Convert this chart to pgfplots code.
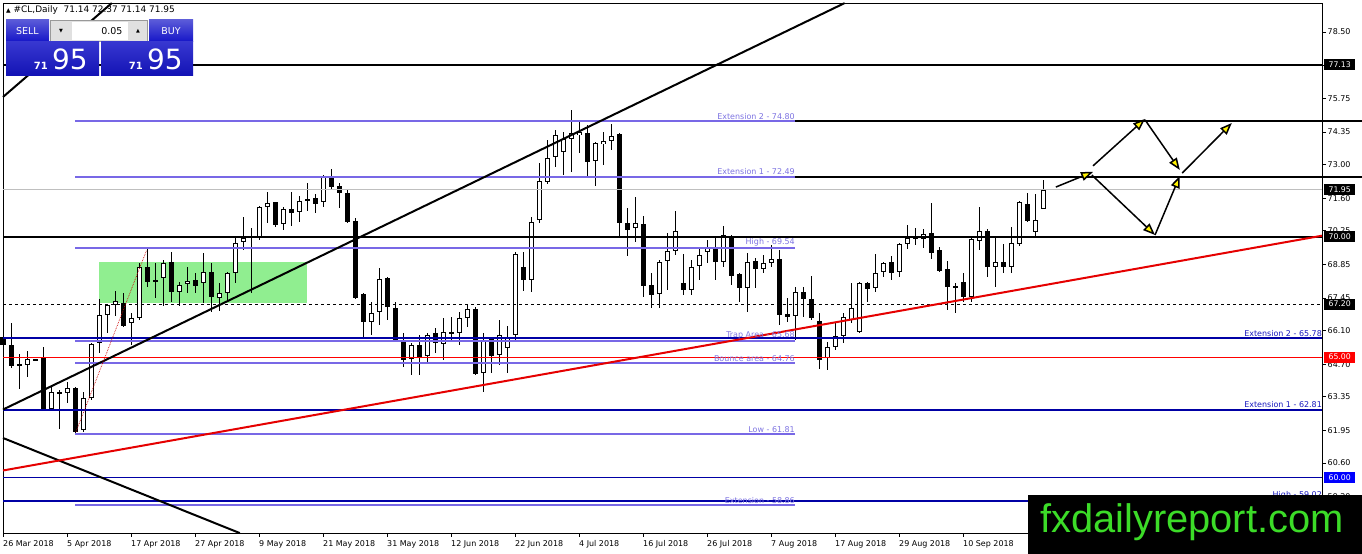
\documentclass[border=0pt]{standalone}
\usepackage{fontspec}
\setmainfont{DejaVu Sans}
\newfontfamily\wmfont{Liberation Sans}
\usepackage{pgfplots}
\pgfplotsset{compat=1.18}
\usepackage{pgfplotstable}
\usetikzlibrary{arrows.meta}

\definecolor{fib}{RGB}{120,104,230}
\definecolor{fibtxt}{RGB}{125,115,225}
\definecolor{navy}{RGB}{0,0,165}
\definecolor{navytxt}{RGB}{25,25,190}
\definecolor{grn}{RGB}{144,238,144}
\definecolor{wm}{RGB}{60,220,40}
\definecolor{btnblue}{RGB}{20,20,200}

\pgfplotstableread{
i o h l c
0 65.83 66.54 65.40 65.50
1 65.50 66.42 64.55 64.63
2 64.70 65.13 63.67 64.66
3 64.67 65.25 64.17 64.92
4 64.88 64.92 64.84 64.88
5 65.00 65.42 62.80 62.84
6 62.84 63.76 62.80 63.55
7 63.50 63.63 62.01 63.55
8 63.51 63.97 63.09 63.72
9 63.72 63.76 61.81 61.89
10 61.97 63.55 61.89 63.30
11 63.30 65.58 63.20 65.54
12 65.58 67.41 65.17 66.75
13 66.75 67.18 66.00 67.16
14 67.16 67.74 66.71 67.33
15 67.25 67.66 66.25 66.29
16 66.42 66.83 65.50 66.62
17 66.62 68.91 66.54 68.74
18 68.74 69.54 67.91 68.12
19 68.12 68.91 67.45 68.20
20 68.28 69.03 67.12 68.91
21 68.95 69.36 67.29 67.70
22 67.70 68.12 67.12 67.99
23 68.04 68.74 67.66 68.16
24 68.20 68.50 67.66 67.95
25 68.08 69.32 67.25 68.53
26 68.53 68.91 66.87 67.50
27 67.45 68.08 66.91 67.66
28 67.66 68.53 67.29 68.49
29 68.49 69.95 68.08 69.74
30 69.78 70.82 69.45 69.95
31 69.95 70.36 67.66 70.03
32 69.99 71.27 69.86 71.23
33 71.23 71.86 70.57 71.40
34 71.44 71.46 70.40 70.49
35 70.53 71.23 70.28 71.15
36 71.15 71.86 70.44 70.98
37 71.02 71.69 70.61 71.48
38 71.52 72.23 71.07 71.56
39 71.61 71.77 70.98 71.36
40 71.44 72.56 71.23 72.52
41 72.48 72.81 72.00 72.06
42 72.10 72.23 71.19 71.81
43 71.81 71.94 70.57 70.61
44 70.65 70.78 67.41 67.45
45 67.62 67.66 65.83 66.46
46 66.46 67.29 65.92 66.83
47 66.87 68.70 66.33 68.24
48 68.28 68.32 66.54 67.08
49 67.04 67.29 65.65 65.71
50 65.63 66.00 64.59 64.88
51 64.92 65.58 64.26 65.50
52 65.50 65.92 64.26 65.00
53 65.04 66.00 64.80 65.92
54 66.00 66.21 65.17 65.58
55 65.54 66.62 64.88 66.04
56 66.00 66.66 65.63 66.04
57 66.00 66.87 65.50 66.62
58 66.62 67.20 66.25 67.00
59 67.00 67.08 64.26 64.30
60 64.34 66.00 63.55 65.71
61 65.79 65.83 64.34 65.04
62 65.08 66.54 64.67 65.92
63 65.38 66.29 64.34 65.79
64 65.92 69.36 65.71 69.28
65 68.74 69.36 67.74 68.20
66 68.20 70.82 67.70 70.61
67 70.69 73.06 70.57 72.31
68 72.27 74.01 72.19 73.27
69 73.31 74.43 72.89 74.22
70 73.52 74.35 72.56 74.06
71 74.06 75.26 72.69 74.31
72 74.22 74.76 73.48 74.35
73 74.31 74.64 72.52 73.10
74 73.14 73.93 72.10 73.89
75 73.85 74.35 72.98 73.97
76 73.97 74.68 73.60 74.18
77 74.26 74.31 69.99 70.57
78 70.57 71.19 69.20 70.28
79 70.36 71.65 69.78 70.57
80 70.53 70.86 67.50 67.95
81 67.99 68.49 67.04 67.58
82 67.62 69.03 67.04 68.95
83 68.99 70.15 67.79 69.41
84 69.41 71.07 69.24 70.24
85 68.08 69.28 67.58 67.79
86 67.79 69.03 67.58 68.74
87 68.78 69.53 68.20 69.24
88 69.36 69.86 68.91 69.53
89 69.53 69.95 68.20 68.95
90 68.95 70.44 68.74 70.07
91 69.99 70.07 67.99 68.37
92 68.45 68.49 67.29 67.87
93 67.87 69.32 66.87 68.95
94 68.99 69.11 67.87 68.66
95 68.66 69.24 68.49 68.91
96 68.91 69.66 68.74 69.07
97 69.07 69.45 66.33 66.75
98 66.79 67.45 66.46 66.66
99 66.71 67.91 65.71 67.70
100 67.70 67.91 66.66 67.41
101 67.41 68.37 66.54 66.62
102 66.50 66.83 64.51 64.88
103 64.96 65.63 64.46 65.42
104 65.42 66.42 65.29 65.88
105 65.88 66.83 65.58 66.66
106 66.54 68.08 66.42 67.04
107 66.04 68.12 66.00 68.08
108 68.08 68.12 67.29 67.83
109 67.87 69.28 67.70 68.49
110 68.53 68.95 68.33 68.91
111 68.95 69.20 68.20 68.49
112 68.53 69.74 68.33 69.70
113 69.70 70.49 69.49 69.95
114 69.95 70.36 69.66 69.90
115 69.90 70.32 69.53 70.11
116 70.15 71.40 69.07 69.32
117 69.45 69.57 68.53 68.58
118 68.66 68.99 66.96 67.91
119 67.91 68.08 66.83 67.95
120 68.12 68.49 67.29 67.50
121 67.50 69.95 67.29 69.90
122 69.82 71.23 69.45 70.24
123 70.24 70.32 68.33 68.74
124 68.74 69.95 67.91 68.95
125 68.95 69.70 68.49 68.74
126 68.74 70.40 68.49 69.74
127 69.70 71.48 69.62 71.44
128 71.36 71.81 70.61 70.65
129 70.20 71.77 70.03 70.69
130 71.14 72.37 71.14 71.95
}\candles

\tikzset{lbl/.style={inner sep=0pt, font=\fontsize{8}{9}\selectfont},
  pbox/.style={anchor=west, inner sep=0pt, minimum width=31bp, minimum height=11bp, font=\fontsize{7.8}{9}\selectfont, xshift=2bp},
  arr/.style={line width=1.5bp, black, -{Triangle[length=12bp,width=9bp,fill=yellow]}}}

\begin{document}
\begin{tikzpicture}[x=1bp,y=1bp]
\useasboundingbox (0,0) rectangle (1362,554);
\begin{axis}[
  at={(3bp,21bp)}, anchor=south west,
  width=1319bp, height=530bp, scale only axis,
  xmin=0, xmax=164.875, ymin=57.694, ymax=79.704,
  clip=false,
  axis line style={line width=0.8bp},
  tick align=outside, major tick length=4bp,
  tick style={black, line width=0.8bp},
  xtick pos=bottom, ytick pos=right, yticklabel pos=right,
  xtick={0,8,...,120},
  xticklabels={26 Mar 2018,5 Apr 2018,17 Apr 2018,27 Apr 2018,9 May 2018,21 May 2018,31 May 2018,12 Jun 2018,22 Jun 2018,4 Jul 2018,16 Jul 2018,26 Jul 2018,7 Aug 2018,17 Aug 2018,29 Aug 2018,10 Sep 2018},
  xticklabel style={anchor=north west, inner sep=0pt, yshift=-3.5bp, font=\fontsize{8}{9}\selectfont},
  ytick={78.5,77.1,75.75,74.35,73,71.6,70.25,68.85,67.45,66.1,64.7,63.35,61.95,60.6,59.2},
  yticklabels={78.50,77.10,75.75,74.35,73.00,71.60,70.25,68.85,67.45,66.10,64.70,63.35,61.95,60.60,59.20},
  yticklabel style={anchor=west, inner sep=0pt, xshift=1.5bp, font=\fontsize{8}{9}\selectfont},
  /pgf/number format/assume math mode=true,
]
% green zone
\addplot[fill=grn, draw=none] coordinates {(12.04,67.23) (37.96,67.23) (37.96,68.94) (12.04,68.94)};

% candles: wicks
\addplot[draw=none, mark=none, error bars/.cd, y dir=both, y explicit, error mark=none,
  error bar style={draw=black, line width=1bp}]
  table[x=i, y expr={(\thisrow{h}+\thisrow{l})/2}, y error expr={(\thisrow{h}-\thisrow{l})/2}] {\candles};
% bodies
\addplot[draw=none, mark=none, error bars/.cd, y dir=both, y explicit, error mark=none,
  error bar style={draw=black, line width=5bp}]
  table[x=i, y expr={(\thisrow{o}+\thisrow{c})/2}, y error expr={max(abs(\thisrow{c}-\thisrow{o})/2,0.025)}] {\candles};
\addplot[draw=none, mark=none, error bars/.cd, y dir=both, y explicit, error mark=none,
  error bar style={draw=white, line width=3bp}]
  table[x=i, y expr={(\thisrow{o}+\thisrow{c})/2}, y error expr={max((\thisrow{c}-\thisrow{o})/2-0.042,0)}] {\candles};

% horizontal reference lines
\addplot[black!25, line width=0.8bp] coordinates {(0,71.95) (164.875,71.95)};
\addplot[black, line width=0.8bp, dash pattern=on 3bp off 3bp] coordinates {(0,67.20) (164.875,67.20)};
\addplot[red, line width=0.8bp] coordinates {(0,65.00) (164.875,65.00)};
\addplot[navy, line width=0.8bp] coordinates {(0,60.00) (164.875,60.00)};
\addplot[fib, line width=2bp] coordinates {(9,74.80) (99,74.80)};
\addplot[fib, line width=2bp] coordinates {(9,72.49) (99,72.49)};
\addplot[fib, line width=2bp] coordinates {(9,69.54) (99,69.54)};
\addplot[fib, line width=2bp] coordinates {(9,65.68) (99,65.68)};
\addplot[fib, line width=2bp] coordinates {(9,64.76) (99,64.76)};
\addplot[fib, line width=2bp] coordinates {(9,61.81) (99,61.81)};
\addplot[fib, line width=2bp] coordinates {(9,58.86) (99,58.86)};
\addplot[navy, line width=2bp] coordinates {(0,65.78) (164.875,65.78)};
\addplot[navy, line width=2bp] coordinates {(0,62.81) (164.875,62.81)};
\addplot[navy, line width=2bp] coordinates {(0,59.02) (164.875,59.02)};
\addplot[black, line width=2bp] coordinates {(0,77.13) (164.875,77.13)};
\addplot[black, line width=2bp] coordinates {(0,70.00) (164.875,70.00)};
\addplot[black, line width=2bp] coordinates {(99,74.80) (169.875,74.80)};
\addplot[black, line width=2bp] coordinates {(99,72.49) (169.875,72.49)};

% trend lines
\addplot[black, line width=2bp] coordinates {(0,62.82) (105.2,79.70)};
\addplot[black, line width=2bp] coordinates {(0,75.80) (13.6,79.70)};
\addplot[black, line width=2bp] coordinates {(0,61.64) (29.6,57.69)};
\addplot[red!90!black, line width=2bp] coordinates {(0,60.29) (164.875,70.04)};
\addplot[red!80!black, line width=0.7bp, densely dotted] coordinates {(9.125,61.90) (17.96,69.45)};

% arrows
\addplot[arr] coordinates {(131.6,72.06) (136.25,72.69)};
\addplot[arr] coordinates {(136.25,72.94) (142.75,74.89)};
\addplot[arr] coordinates {(142.75,74.85) (147.1,72.77)};
\addplot[arr] coordinates {(147.4,72.64) (153.6,74.72)};
\addplot[arr] coordinates {(136.1,72.56) (144.0,70.07)};
\addplot[arr] coordinates {(144.0,70.07) (147.1,72.52)};

% line labels
\node[lbl, text=fibtxt, anchor=south east] at (axis cs:99,74.80) [yshift=1.5bp] {Extension 2 - 74.80};
\node[lbl, text=fibtxt, anchor=south east] at (axis cs:99,72.49) [yshift=1.5bp] {Extension 1 - 72.49};
\node[lbl, text=fibtxt, anchor=south east] at (axis cs:99,69.54) [yshift=1.5bp] {High - 69.54};
\node[lbl, text=fibtxt, anchor=south east] at (axis cs:99,65.68) [yshift=1.5bp] {Trap Area - 65.68};
\node[lbl, text=fibtxt, anchor=south east] at (axis cs:99,64.76) [yshift=1.5bp] {Bounce area - 64.76};
\node[lbl, text=fibtxt, anchor=south east] at (axis cs:99,61.81) [yshift=1.5bp] {Low - 61.81};
\node[lbl, text=fibtxt, anchor=south east] at (axis cs:99,58.86) [yshift=1.5bp] {Extension - 58.86};
\node[lbl, text=navytxt, anchor=south east] at (axis cs:164.875,65.78) [yshift=1.5bp] {Extension 2 - 65.78};
\node[lbl, text=navytxt, anchor=south east] at (axis cs:164.875,62.81) [yshift=1.5bp] {Extension 1 - 62.81};
\node[lbl, text=navytxt, anchor=south east] at (axis cs:164.875,59.02) [yshift=1.5bp] {High - 59.02};

% price boxes
\node[pbox, fill=black, text=white] at (axis cs:164.875,77.13) {77.13};
\node[pbox, fill=black, text=white] at (axis cs:164.875,71.95) {71.95};
\node[pbox, fill=black, text=white] at (axis cs:164.875,70.00) {70.00};
\node[pbox, fill=black, text=white] at (axis cs:164.875,67.20) {67.20};
\node[pbox, fill=red, text=white] at (axis cs:164.875,65.00) {65.00};
\node[pbox, fill=blue, text=white] at (axis cs:164.875,60.00) {60.00};
\end{axis}

% header
\node[anchor=west, inner sep=0pt] at (6,544) {\fontsize{6}{7}\selectfont▲\fontsize{9}{10}\selectfont\ \#CL,Daily\ \ 71.14 72.37 71.14 71.95};

% trade widget
\shade[top color=btnblue!70!white, bottom color=btnblue] (6,534) rectangle (49,512);
\node[text=white, font=\fontsize{9.5}{10}\selectfont] at (27.5,523) {SELL};
\fill[black!12] (50,534) rectangle (148,512);
\draw[black!40, line width=0.6bp] (50.3,533.7) rectangle (147.7,512.3);
\fill[white] (72,532) rectangle (128,514);
\node[font=\fontsize{5}{6}\selectfont] at (61,523) {▼};
\node[font=\fontsize{5}{6}\selectfont] at (138,523) {▲};
\node[anchor=east, font=\fontsize{9.5}{10}\selectfont] at (126,523) {0.05};
\shade[top color=btnblue!70!white, bottom color=btnblue] (149,534) rectangle (193,512);
\node[text=white, font=\fontsize{9.5}{10}\selectfont] at (171,523) {BUY};
\shade[top color=btnblue!85!white, bottom color=btnblue!90!black] (6,512) rectangle (99,478);
\shade[top color=btnblue!85!white, bottom color=btnblue!90!black] (101,512) rectangle (193,478);
\node[anchor=base east, inner sep=0pt, text=white, font=\bfseries\fontsize{10}{11}\selectfont] at (48,484) {71};
\node[anchor=base west, inner sep=0pt, text=white, font=\fontsize{28}{30}\selectfont] at (52,484) {95};
\node[anchor=base east, inner sep=0pt, text=white, font=\bfseries\fontsize{10}{11}\selectfont] at (143,484) {71};
\node[anchor=base west, inner sep=0pt, text=white, font=\fontsize{28}{30}\selectfont] at (147,484) {95};

% watermark
\fill[black] (1028,0) rectangle (1362,59);
\node[anchor=base west, inner sep=0pt, text=wm, font=\wmfont\fontsize{40}{41}\selectfont] at (1040,21) {fxdailyreport.com};
\end{tikzpicture}
\end{document}
